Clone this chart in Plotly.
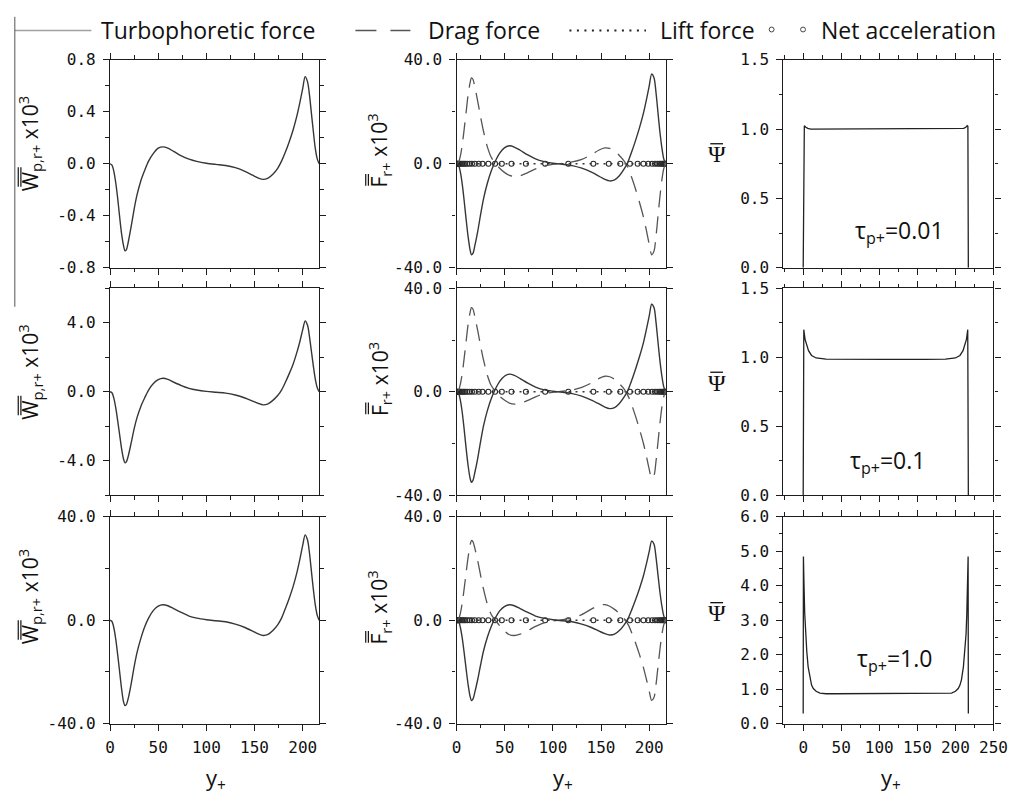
import plotly.graph_objects as go

W, H = 1032, 806

# ---------------------------------------------------------------- data
# wall-normal coordinate (wall units) of the drift / force profiles
y_plus = [0, 2, 4, 6, 8, 10, 12, 14, 15.5, 17, 19, 22, 25, 28, 32, 36, 40, 45, 50, 55,
          60, 66, 74, 82, 90, 100, 110, 120, 130, 140, 148, 154, 159, 164, 169, 174, 178,
          182, 186, 190, 194, 197, 200, 202.5, 205, 207, 209, 211, 213, 215, 217]

# mean turbophoretic drift velocity (x10^3) for tau_p+ = 0.01, 0.1, 1.0
w_tau001 = [0, -0.01, -0.06, -0.15, -0.27, -0.41, -0.54, -0.63, -0.67, -0.66, -0.6, -0.48,
            -0.35, -0.24, -0.13, -0.05, 0.02, 0.08, 0.12, 0.13, 0.12, 0.095, 0.06, 0.035,
            0.018, 0.004, -0.005, -0.013, -0.03, -0.058, -0.088, -0.11, -0.12, -0.11, -0.08,
            -0.035, 0.02, 0.09, 0.17, 0.26, 0.37, 0.47, 0.58, 0.67, 0.63, 0.53, 0.39, 0.25,
            0.12, 0.04, 0]
w_tau01 = [0, -0.06, -0.38, -0.95, -1.7, -2.5, -3.3, -3.9, -4.12, -4.05, -3.7, -2.95, -2.15,
           -1.5, -0.85, -0.35, 0.1, 0.48, 0.7, 0.78, 0.72, 0.56, 0.36, 0.2, 0.1, 0.02, -0.03,
           -0.08, -0.19, -0.36, -0.54, -0.68, -0.76, -0.7, -0.5, -0.22, 0.1, 0.55, 1.05, 1.6,
           2.3, 2.9, 3.6, 4.1, 3.85, 3.2, 2.35, 1.5, 0.75, 0.25, 0]
w_tau1 = [0, -0.5, -3, -7.5, -13.5, -20, -26.5, -31.5, -33, -32.5, -30, -24.5, -18, -12.5,
          -7, -2.5, 0.8, 3.8, 5.5, 6.0, 5.6, 4.5, 3.0, 1.6, 0.8, 0.2, -0.2, -0.6, -1.5, -2.8,
          -4.2, -5.3, -5.9, -5.5, -4.0, -1.8, 0.8, 4.5, 8.5, 13, 18.5, 23.5, 29, 33, 31, 26,
          19, 12, 6, 2, 0]

# mean radial forces (x10^3)
turb_tau001 = [0, -0.5, -3.2, -8, -14.5, -21.5, -28, -33, -35, -34.5, -31.5, -26, -19.5, -13.5,
               -7.5, -2.8, 0.8, 4.2, 6.2, 6.9, 6.4, 5.2, 3.4, 1.9, 0.9, 0.2, -0.2, -0.7, -1.7,
               -3.2, -4.8, -6.0, -6.6, -6.2, -4.6, -2.0, 0.8, 4.8, 9.2, 14, 19.5, 24.5, 30,
               34.5, 33, 27.5, 20, 12.5, 6.5, 2, 0]
drag_tau001 = [0, 0.5, 3.0, 7.5, 13.5, 20, 26.5, 31, 33, 32.5, 29.5, 24, 18, 12.5, 6.5, 2.5,
               0.3, -1.8, -3.4, -4.5, -4.9, -4.6, -3.4, -2.0, -0.9, -0.2, 0.2, 0.7, 1.7, 3.5,
               5.3, 6.1, 5.9, 4.9, 3.2, 1.0, -1.6, -5.5, -10, -15, -20.5, -25.5, -31, -35,
               -33.5, -28, -20.5, -13, -6.5, -2, 0]
turb_tau01 = [0, -0.5, -3.3, -8.2, -14.8, -22, -28.5, -33.3, -35, -34.3, -31.2, -25.7, -19.2,
              -13.2, -7.3, -2.7, 0.8, 4.1, 6.1, 6.8, 6.3, 5.1, 3.3, 1.8, 0.8, 0.2, -0.2, -0.7,
              -1.7, -3.2, -4.7, -5.9, -6.5, -6.1, -4.5, -2.0, 0.7, 4.6, 9.0, 13.7, 19, 24,
              29.3, 33.8, 32.5, 27, 19.6, 12.3, 6.4, 2, 0]
drag_tau01 = [0, 0.5, 3.0, 7.3, 13.2, 19.6, 26, 30.5, 32.5, 32, 29, 23.6, 17.7, 12.3, 6.4, 2.4,
              0.3, -1.8, -3.3, -4.4, -4.8, -4.5, -3.3, -2.0, -0.9, -0.2, 0.2, 0.7, 1.7, 3.4,
              5.2, 6.0, 5.8, 4.8, 3.1, 1.0, -1.6, -5.3, -9.7, -14.6, -20, -24.8, -30, -33.5,
              -32.3, -27, -19.8, -12.6, -6.3, -2, 0]
turb_tau1 = [0, -0.4, -2.8, -7.1, -12.8, -19, -24.8, -29.3, -31, -30.5, -27.8, -22.9, -17.2,
             -11.9, -6.6, -2.4, 0.7, 3.7, 5.4, 6.0, 5.6, 4.5, 3.0, 1.6, 0.8, 0.2, -0.2, -0.6,
             -1.5, -2.8, -4.2, -5.2, -5.7, -5.4, -4.0, -1.8, 0.6, 4.2, 8.1, 12.4, 17.2, 21.7,
             26.6, 30.6, 29.4, 24.5, 17.8, 11.2, 5.8, 1.8, 0]
drag_tau1 = [0, 0.4, 2.7, 6.9, 12.4, 18.5, 24.3, 28.8, 30.8, 30.4, 27.8, 23, 17.3, 12, 6.2,
             2.2, 0.1, -2.2, -4.2, -5.6, -5.9, -5.4, -4, -2.4, -1.1, -0.3, 0.2, 0.9, 2.2, 4.3,
             5.8, 6.0, 5.4, 4.2, 2.6, 0.6, -1.6, -5.0, -9.0, -13.4, -18.3, -22.7, -27.4, -31,
             -29.8, -25, -18.3, -11.6, -5.9, -1.9, 0]
lift_force = [0.0] * len(y_plus)

# net acceleration, sampled on the (wall-clustered) solver grid
net_y = [0, 0.3, 0.8, 1.5, 2.3, 3.3, 4.5, 6, 7.5, 9, 11, 13.5, 16, 19, 23, 27, 33, 40, 47,
         57, 72, 92, 116, 142, 158, 170, 180, 188, 194, 199, 203, 206, 208.5, 210.5, 212.2,
         213.7, 214.8, 215.7, 216.3, 216.7, 217]
net_acc = [0.0] * len(net_y)

# normalised particle concentration
psi_y001 = [0, 0.2, 0.6, 1.5, 3, 6, 10, 20, 60, 108, 160, 197, 207, 211, 214, 215.5, 216.4,
            216.8, 217]
psi_001 = [0, 0.25, 1.02, 1.025, 1.015, 1.005, 1.0, 1.0, 1.0, 1.0, 1.0, 1.0, 1.0, 1.005,
           1.015, 1.025, 1.02, 0.25, 0]
psi_y01 = [0, 0.2, 0.8, 1.5, 2.5, 4, 7, 11, 17, 30, 60, 108, 160, 187, 200, 206, 210, 213,
           214.5, 215.5, 216.2, 216.8, 217]
psi_01 = [0, 0.34, 1.2, 1.17, 1.13, 1.1, 1.048, 1.013, 0.995, 0.987, 0.985, 0.985, 0.985,
          0.987, 0.995, 1.013, 1.048, 1.1, 1.13, 1.17, 1.2, 0.34, 0]
psi_y1 = [0, 0.3, 1.0, 2, 3, 4.7, 6.5, 9, 11, 13.3, 17, 22, 30, 40, 108, 177, 187, 195, 200,
          203.7, 206, 208, 210.5, 212.3, 214, 215, 216, 216.7, 217]
psi_1 = [0.3, 4.85, 4.1, 3.2, 2.6, 2.1, 1.65, 1.28, 1.12, 1.02, 0.94, 0.89, 0.87, 0.87, 0.87,
         0.87, 0.87, 0.89, 0.94, 1.02, 1.12, 1.28, 1.65, 2.1, 2.6, 3.2, 4.1, 4.85, 0.3]

tau_labels = ["0.01", "0.1", "1.0"]

# axis ticks
x_ticks_lm = [0, 50, 100, 150, 200]
x_ticks_r = [0, 50, 100, 150, 200, 250]
w_ticks = [[-0.8, -0.4, 0, 0.4, 0.8], [-4, 0, 4], [-40, 0, 40]]
w_ticktext = [["-0.8", "-0.4", "0.0", "0.4", "0.8"], ["-4.0", "0.0", "4.0"],
              ["-40.0", "0.0", "40.0"]]
f_ticks = [-40, 0, 40]
f_ticktext = ["-40.0", "0.0", "40.0"]
psi_ticks = [[0, 0.5, 1.0, 1.5], [0, 0.5, 1.0, 1.5], [0, 1, 2, 3, 4, 5, 6]]
psi_ticktext = [["0.0", "0.5", "1.0", "1.5"], ["0.0", "0.5", "1.0", "1.5"],
                ["0.0", "1.0", "2.0", "3.0", "4.0", "5.0", "6.0"]]

# ---------------------------------------------------------------- layout helpers
def px_x(v):
    return v / W


def px_y(v):
    return 1 - v / H


COL_PX = [(107, 320), (460, 673), (793, 1007)]
ROW_PX = [(52, 265), (286, 498), (520, 732)]

INK = "#1c1c1c"
CURVE = "#363636"
TICK_FONT = dict(family="DejaVu Sans Mono", size=16, color="#111111")
TEXT_FONT = "Open Sans"

fig = go.Figure()
layout = dict(width=W, height=H, margin=dict(l=0, r=0, t=0, b=0),
              paper_bgcolor="white", plot_bgcolor="white", showlegend=False)


def axis_base():
    return dict(showline=True, linecolor=INK, linewidth=1.3, mirror="ticks",
                ticks="outside", ticklen=6, tickwidth=1.2, tickcolor=INK,
                showgrid=False, zeroline=False, tickfont=TICK_FONT, tickmode="array")


def minor(step):
    return dict(ticks="outside", ticklen=3.5, tickwidth=1.1, tickcolor=INK,
                tickmode="linear", tick0=0, dtick=step)


w_ranges = [0.8, 6, 40]
w_minor = [0.2, 2, 20]

for r in range(3):
    for c in range(3):
        k = r * 3 + c + 1
        xa = "xaxis" if k == 1 else f"xaxis{k}"
        ya = "yaxis" if k == 1 else f"yaxis{k}"
        xr = "x" if k == 1 else f"x{k}"
        yr = "y" if k == 1 else f"y{k}"

        xd = axis_base()
        xd.update(domain=[px_x(COL_PX[c][0]), px_x(COL_PX[c][1])], anchor=yr,
                  showticklabels=(r == 2), ticklabelstandoff=3, minor=minor(25))
        if c < 2:
            xd.update(range=[0, 217], tickvals=x_ticks_lm,
                      ticktext=[str(v) for v in x_ticks_lm])
        else:
            xd.update(range=[-26, 250], tickvals=x_ticks_r,
                      ticktext=[str(v) for v in x_ticks_r])

        yd = axis_base()
        yd.update(domain=[px_y(ROW_PX[r][1]), px_y(ROW_PX[r][0])], anchor=xr,
                  ticklabelstandoff=4)
        if c == 0:
            yd.update(range=[-w_ranges[r], w_ranges[r]], tickvals=w_ticks[r],
                      ticktext=w_ticktext[r], minor=minor(w_minor[r]))
        elif c == 1:
            yd.update(range=[-40, 40], tickvals=f_ticks, ticktext=f_ticktext,
                      minor=minor(20))
        else:
            yd.update(range=[0, psi_ticks[r][-1]], tickvals=psi_ticks[r],
                      ticktext=psi_ticktext[r], minor=minor(0.25 if r < 2 else 0.5))
        layout[xa] = xd
        layout[ya] = yd

# ---------------------------------------------------------------- traces
w_rows = [w_tau001, w_tau01, w_tau1]
turb_rows = [turb_tau001, turb_tau01, turb_tau1]
drag_rows = [drag_tau001, drag_tau01, drag_tau1]
psi_rows = [(psi_y001, psi_001), (psi_y01, psi_01), (psi_y1, psi_1)]


def ax(k):
    return ("x", "y") if k == 1 else (f"x{k}", f"y{k}")


for r in range(3):
    # drift velocity
    xk, yk = ax(r * 3 + 1)
    fig.add_trace(go.Scatter(x=y_plus, y=w_rows[r], mode="lines", xaxis=xk, yaxis=yk,
                             line=dict(color=CURVE, width=1.4, shape="spline", smoothing=0.8),
                             name="Turbophoretic drift"))
    # force balance
    xk, yk = ax(r * 3 + 2)
    fig.add_trace(go.Scatter(x=y_plus, y=lift_force, mode="lines", xaxis=xk, yaxis=yk,
                             line=dict(color=CURVE, width=1.6, dash="2px,5px"),
                             name="Lift force"))
    fig.add_trace(go.Scatter(x=net_y, y=net_acc, mode="markers", xaxis=xk, yaxis=yk,
                             marker=dict(symbol="circle-open", size=5, color="#2a2a2a",
                                         line=dict(width=1.1, color="#2a2a2a")),
                             name="Net acceleration"))
    fig.add_trace(go.Scatter(x=y_plus, y=drag_rows[r], mode="lines", xaxis=xk, yaxis=yk,
                             line=dict(color="#555555", width=1.3, dash="17px,9px",
                                       shape="spline", smoothing=0.8),
                             name="Drag force"))
    fig.add_trace(go.Scatter(x=y_plus, y=turb_rows[r], mode="lines", xaxis=xk, yaxis=yk,
                             line=dict(color=CURVE, width=1.4, shape="spline", smoothing=0.8),
                             name="Turbophoretic force"))
    # concentration
    xk, yk = ax(r * 3 + 3)
    fig.add_trace(go.Scatter(x=psi_rows[r][0], y=psi_rows[r][1], mode="lines",
                             xaxis=xk, yaxis=yk, line=dict(color="#222222", width=1.3),
                             name="Concentration"))

# ---------------------------------------------------------------- text
annotations = []
shapes = []


def note(text, x, y, size, family=TEXT_FONT, xanchor="center", angle=0):
    annotations.append(dict(text=text, x=px_x(x), y=px_y(y), xref="paper", yref="paper",
                            xanchor=xanchor, yanchor="middle", showarrow=False,
                            textangle=angle, font=dict(family=family, size=size,
                                                       color="#111111")))


def seg(x0, y0, x1, y1, color="#111111", width=1.2, dash=None):
    line = dict(color=color, width=width)
    if dash:
        line["dash"] = dash
    shapes.append(dict(type="line", xref="paper", yref="paper", x0=px_x(x0), x1=px_x(x1),
                       y0=px_y(y0), y1=px_y(y1), line=line))


# legend row
note("Turbophoretic force", 96, 22, 23, xanchor="left")
note("Drag force", 429, 22, 23, xanchor="left")
note("Lift force", 665, 22, 23, xanchor="left")
note("Net acceleration", 829, 22, 23, xanchor="left")
seg(10, 22, 88, 22, color="#a0a0a0", width=1.5)
seg(357, 22, 413, 22, color="#555555", width=1.5, dash="21px,14px")
seg(575, 22, 653, 22, color="#222222", width=2, dash="2px,5.5px")
for cx in (781, 813):
    shapes.append(dict(type="circle", xref="paper", yref="paper",
                       x0=px_x(cx - 2.5), x1=px_x(cx + 2.5),
                       y0=px_y(21 + 2.5), y1=px_y(21 - 2.5),
                       line=dict(color="#444444", width=1)))
# thin frame line along the left edge
seg(10, 8, 10, 305, color="#555555", width=1)

w_title = "W<sub>p,r+</sub> x10<sup>3</sup>"
f_title = "F<sub>r+</sub> x10<sup>3</sup>"
w_bottom = [183, 417, 647]     # lower end of the rotated W glyph
f_bottom = [182, 416, 650]     # lower end of the rotated F glyph
psi_top = [138, 372, 608]      # bar over psi
tau_xy = [(911, 228), (899, 463), (906, 666)]
for r in range(3):
    # rotated y titles with a double bar over the leading symbol
    note(w_title, 25, w_bottom[r] - 45, 21, angle=-90)
    seg(13.5, w_bottom[r] - 21, 13.5, w_bottom[r] - 1)
    seg(16.2, w_bottom[r] - 21, 16.2, w_bottom[r] - 1)
    note(f_title, 381, f_bottom[r] - 37, 21, angle=-90)
    seg(367.5, f_bottom[r] - 13, 367.5, f_bottom[r] - 1)
    seg(370.2, f_bottom[r] - 13, 370.2, f_bottom[r] - 1)
    # psi with an overbar
    note("\u03a8", 725, psi_top[r] + 11, 24, family="Liberation Serif")
    seg(718.5, psi_top[r], 731.5, psi_top[r], width=1.3)
    note(f"\u03c4<sub>p+</sub>={tau_labels[r]}", tau_xy[r][0], tau_xy[r][1], 23)

for xc in (215, 568, 903):
    note("y<sub>+</sub>", xc, 789, 22)

layout["annotations"] = annotations
layout["shapes"] = shapes

fig.update_layout(**layout)
fig.write_html("out.html")
